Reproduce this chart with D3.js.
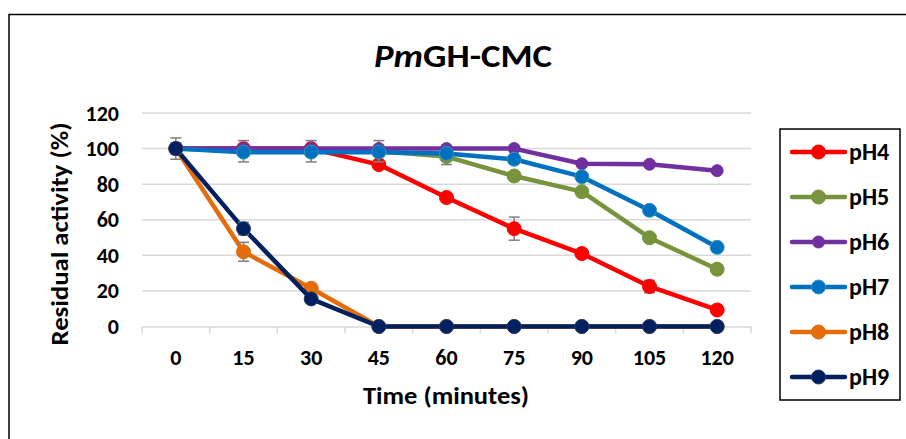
<!DOCTYPE html>
<html>
<head>
<meta charset="utf-8">
<script src="https://cdn.jsdelivr.net/npm/d3@7"></script>
<style>
  html, body { margin: 0; padding: 0; background: #fff; }
  svg { display: block; font-family: Carlito, "Open Sans", sans-serif; font-weight: bold; }
</style>
</head>
<body>
<svg id="chart" width="906" height="439"></svg>
<script>
const times = ["0", "15", "30", "45", "60", "75", "90", "105", "120"];
const yTicks = [0, 20, 40, 60, 80, 100, 120];
const seriesNames = ["pH4", "pH5", "pH6", "pH7", "pH8", "pH9"];
const seriesColors = ["#ff0000", "#77933c", "#7030a0", "#0070c0", "#e46c0a", "#002060"];
const markerStrokes = ["#ff0000", "#77933c", "#7030a0", "#2e9ab8", "#e46c0a", "#1f3a6e"];
const markerRadius = [7, 7, 6, 7, 7, 7];

const pH4 = [100, 100, 100, 91, 72.5, 55, 41, 22.5, 9.3];
const pH5 = [100, 98.5, 98.5, 98.5, 95.5, 84.6, 75.8, 49.9, 32.2];
const pH6 = [100, 100, 100, 100, 100, 100, 91.5, 91.2, 87.6];
const pH7 = [100, 98, 98, 98, 97.3, 94, 84.2, 65.3, 44.5];
const pH8 = [100, 42, 21.5, 0, 0, 0, 0, 0, 0];
const pH9 = [100, 55, 15.5, 0, 0, 0, 0, 0, 0];

const err4 = [3, 0, 0, 1, 1, 6.5, 1, 3.5, 1];
const err5 = [6, 6, 6, 6, 4.5, 1, 1, 1, 1];
const err6 = [0, 0, 0, 0, 0, 0, 0, 0, 0];
const err7 = [0, 0, 0, 0, 0, 0, 0, 0, 0];
const err8 = [3, 5.3, 1, 0, 0, 0, 0, 0, 0];
const err9 = [3, 3.5, 1, 0, 0, 0, 0, 0, 0];

const seriesValues = [pH4, pH5, pH6, pH7, pH8, pH9];
const seriesErrors = [err4, err5, err6, err7, err8, err9];

const FONT = 'Carlito, "Open Sans", sans-serif';
const svg = d3.select("#chart");

// outer chart frame (runs off the right/bottom edge like the source)
svg.append("rect")
  .attr("x", 9).attr("y", 14.5)
  .attr("width", 910).attr("height", 440)
  .attr("fill", "none").attr("stroke", "#000").attr("stroke-width", 1.5);

const x = d3.scaleBand().domain(times).range([142, 751]);
const y = d3.scaleLinear().domain([0, 120]).range([326.5, 113]);
const cx = (t) => x(t) + x.bandwidth() / 2;

// gridlines
svg.append("g")
  .selectAll("line")
  .data(yTicks.filter((d) => d > 0))
  .join("line")
  .attr("x1", 142).attr("x2", 751)
  .attr("y1", (d) => y(d)).attr("y2", (d) => y(d))
  .attr("stroke", "#d9d9d9").attr("stroke-width", 1.5);

// x axis line and category ticks
const xAxis = svg.append("g")
  .attr("transform", `translate(0, ${y(0)})`)
  .call(d3.axisBottom(x).tickSize(0).tickPadding(23));
xAxis.select(".domain").attr("stroke", "#d9d9d9").attr("stroke-width", 1.5);
xAxis.selectAll("text")
  .style("font-size", "22px").style("font-family", FONT)
  .style("font-weight", "bold").attr("fill", "#000");
xAxis.selectAll(".tick line").remove();
xAxis.selectAll(".cat-tick")
  .data(d3.range(times.length + 1))
  .join("line")
  .attr("class", "cat-tick")
  .attr("x1", (i) => 142 + i * x.step()).attr("x2", (i) => 142 + i * x.step())
  .attr("y1", 0).attr("y2", 7)
  .attr("stroke", "#d9d9d9").attr("stroke-width", 1.5);

// y axis labels
const yAxis = svg.append("g")
  .attr("transform", "translate(142, 0)")
  .call(d3.axisLeft(y).tickValues(yTicks).tickSize(0).tickPadding(23));
yAxis.select(".domain").remove();
yAxis.selectAll("text")
  .style("font-size", "22px").style("font-family", FONT)
  .style("font-weight", "bold").attr("fill", "#000");

// titles
const title = svg.append("text")
  .attr("x", 463).attr("y", 67)
  .attr("text-anchor", "middle")
  .style("font-size", "32px")
  .attr("textLength", 178)
  .attr("lengthAdjust", "spacingAndGlyphs");
title.append("tspan").attr("font-style", "italic").text("Pm");
title.append("tspan").text("GH-CMC");

svg.append("text")
  .attr("x", 446).attr("y", 404)
  .attr("text-anchor", "middle")
  .style("font-size", "24px")
  .attr("textLength", 166)
  .attr("lengthAdjust", "spacingAndGlyphs")
  .text("Time (minutes)");

svg.append("text")
  .attr("transform", "translate(68, 234) rotate(-90)")
  .attr("text-anchor", "middle")
  .style("font-size", "24px")
  .attr("textLength", 223)
  .attr("lengthAdjust", "spacingAndGlyphs")
  .text("Residual activity (%)");

// series
const line = d3.line().x((d) => cx(d.t)).y((d) => y(d.v));

seriesNames.forEach((name, i) => {
  const pts = times.map((t, j) => ({ t, v: seriesValues[i][j], e: seriesErrors[i][j] }));
  const g = svg.append("g").attr("class", "series");

  g.append("path")
    .datum(pts)
    .attr("d", line)
    .attr("fill", "none")
    .attr("stroke", seriesColors[i])
    .attr("stroke-width", 4.5)
    .attr("stroke-linejoin", "round");

  const bars = g.selectAll(".err")
    .data(pts.filter((d) => d.e > 0))
    .join("g")
    .attr("class", "err")
    .attr("stroke", "#7f7f7f")
    .attr("stroke-width", 1.5);
  bars.append("line")
    .attr("x1", (d) => cx(d.t)).attr("x2", (d) => cx(d.t))
    .attr("y1", (d) => y(d.v + d.e)).attr("y2", (d) => y(d.v - d.e));
  bars.append("line")
    .attr("x1", (d) => cx(d.t) - 5.5).attr("x2", (d) => cx(d.t) + 5.5)
    .attr("y1", (d) => y(d.v + d.e)).attr("y2", (d) => y(d.v + d.e));
  bars.append("line")
    .attr("x1", (d) => cx(d.t) - 5.5).attr("x2", (d) => cx(d.t) + 5.5)
    .attr("y1", (d) => y(d.v - d.e)).attr("y2", (d) => y(d.v - d.e));

  g.selectAll("circle")
    .data(pts)
    .join("circle")
    .attr("cx", (d) => cx(d.t))
    .attr("cy", (d) => y(d.v))
    .attr("r", markerRadius[i])
    .attr("fill", seriesColors[i])
    .attr("stroke", markerStrokes[i])
    .attr("stroke-width", 1);
});

// legend
const legend = svg.append("g");
legend.append("rect")
  .attr("x", 780).attr("y", 129)
  .attr("width", 120).attr("height", 271)
  .attr("fill", "#fff").attr("stroke", "#000").attr("stroke-width", 1.5);

const legendY = d3.scalePoint().domain(seriesNames).range([152, 377]);
const items = legend.selectAll(".item")
  .data(seriesNames)
  .join("g")
  .attr("class", "item")
  .attr("transform", (d) => `translate(0, ${legendY(d)})`);
items.append("line")
  .attr("x1", 792).attr("x2", 845)
  .attr("stroke", (d, i) => seriesColors[i])
  .attr("stroke-width", 4.5)
  .attr("stroke-linecap", "round");
items.append("circle")
  .attr("cx", 818.5)
  .attr("r", (d, i) => markerRadius[i])
  .attr("fill", (d, i) => seriesColors[i])
  .attr("stroke", (d, i) => markerStrokes[i]);
items.append("text")
  .attr("x", 849).attr("dy", "0.35em")
  .style("font-size", "24px")
  .text((d) => d);
</script>
</body>
</html>
